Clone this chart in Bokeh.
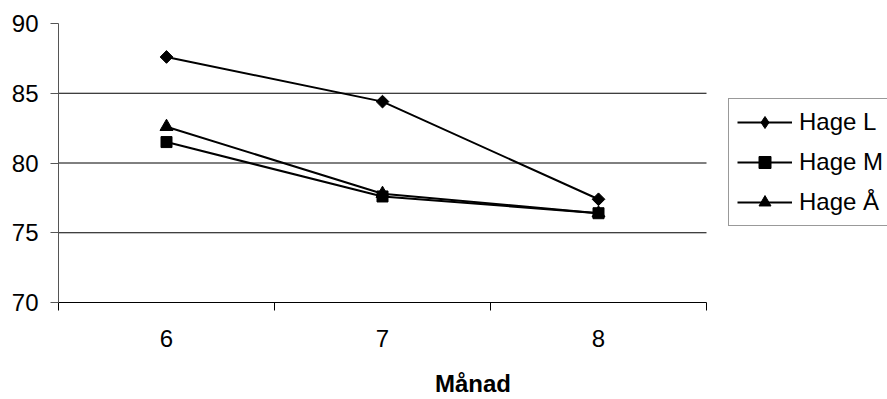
import numpy as np
from bokeh.plotting import figure
from bokeh.models import FixedTicker, Legend, LegendItem, Range1d
from bokeh.embed import file_html
from bokeh.resources import INLINE

months = [6, 7, 8]
hage_l = [87.6, 84.4, 77.4]
hage_m = [81.5, 77.6, 76.4]
hage_a = [82.6, 77.8, 76.4]
series_names = ["Hage L", "Hage M", "Hage Å"]
y_ticks = [70, 75, 80, 85, 90]
x_label = "Månad"

FONT = "Liberation Sans"

# plotted x span (category bands) and the extra room on the right that holds the legend
x_lo, x_hi = months[0] - 0.5, months[-1] + 0.5
W, H = 887, 399
left, top, bottom = 58, 23, 96
band_px = 648  # pixel width of the category area
x_end = x_lo + (x_hi - x_lo) * (W - left) / band_px

p = figure(width=W, height=H, output_backend="svg", toolbar_location=None,
           x_range=Range1d(x_lo, x_end), y_range=Range1d(70, 90),
           min_border_left=left, min_border_right=0, min_border_top=top, min_border_bottom=bottom)
p.outline_line_color = None
p.background_fill_color = "white"
p.border_fill_color = "white"

# x axis
xa = p.xaxis[0]
xa.bounds = (x_lo, x_hi)
xa.ticker = FixedTicker(ticks=months, minor_ticks=[m - 0.5 for m in months] + [x_hi])
xa.major_tick_out = 0
xa.major_tick_in = 0
xa.minor_tick_out = 8
xa.minor_tick_in = 0
xa.minor_tick_line_color = "black"
xa.axis_line_color = "black"
xa.major_label_text_font = FONT
xa.major_label_text_font_size = "24px"
xa.major_label_text_color = "black"
xa.major_label_standoff = 19
xa.axis_label = x_label
xa.axis_label_text_font = FONT
xa.axis_label_text_font_style = "bold"
xa.axis_label_text_font_size = "24px"
xa.axis_label_text_color = "black"
xa.axis_label_standoff = 20

# y axis
ya = p.yaxis[0]
ya.ticker = FixedTicker(ticks=y_ticks)
ya.minor_tick_line_color = None
ya.major_tick_out = 8
ya.major_tick_in = 0
ya.major_tick_line_color = "#555555"
ya.axis_line_color = "#555555"
ya.major_label_text_font = FONT
ya.major_label_text_font_size = "24px"
ya.major_label_text_color = "black"
ya.major_label_standoff = 12

# horizontal gridlines only across the category area
p.xgrid.grid_line_color = None
p.ygrid.grid_line_color = None
grid_vals = y_ticks[1:-1]
p.segment(x0=[x_lo] * len(grid_vals), x1=[x_hi] * len(grid_vals), y0=grid_vals, y1=grid_vals,
          line_color="black", line_width=1)

items = []
for vals, name, marker, size, ang, leg_marker in [
    (hage_l, series_names[0], "square", 9, np.pi / 4, "diamond"),
    (hage_m, series_names[1], "square", 11, 0.0, "square"),
    (hage_a, series_names[2], "triangle", 13, 0.0, "triangle"),
]:
    ln = p.line(months, vals, line_color="black", line_width=2)
    if leg_marker != marker:
        # legend swatches are never rotated: a real diamond (hidden under the
        # rotated squares) provides the key symbol
        sw = p.scatter(months, vals, marker=leg_marker, size=11,
                       fill_color="black", line_color="black")
    sc = p.scatter(months, vals, marker=marker, size=size, angle=ang,
                   fill_color="black", line_color="black")
    items.append(LegendItem(label=name, renderers=[ln, sw if leg_marker != marker else sc]))

legend = Legend(items=items, location=(670, 76))
legend.label_text_font = FONT
legend.label_text_font_size = "24px"
legend.label_text_color = "black"
legend.glyph_width = 55
legend.glyph_height = 30
legend.label_height = 30
legend.label_width = 110
legend.spacing = 10
legend.padding = 8
legend.margin = 0
legend.label_standoff = 7
legend.border_line_color = "#333333"
legend.border_line_width = 1
legend.background_fill_alpha = 1
p.add_layout(legend, "center")

open("out.html", "w").write(file_html(p, INLINE))
